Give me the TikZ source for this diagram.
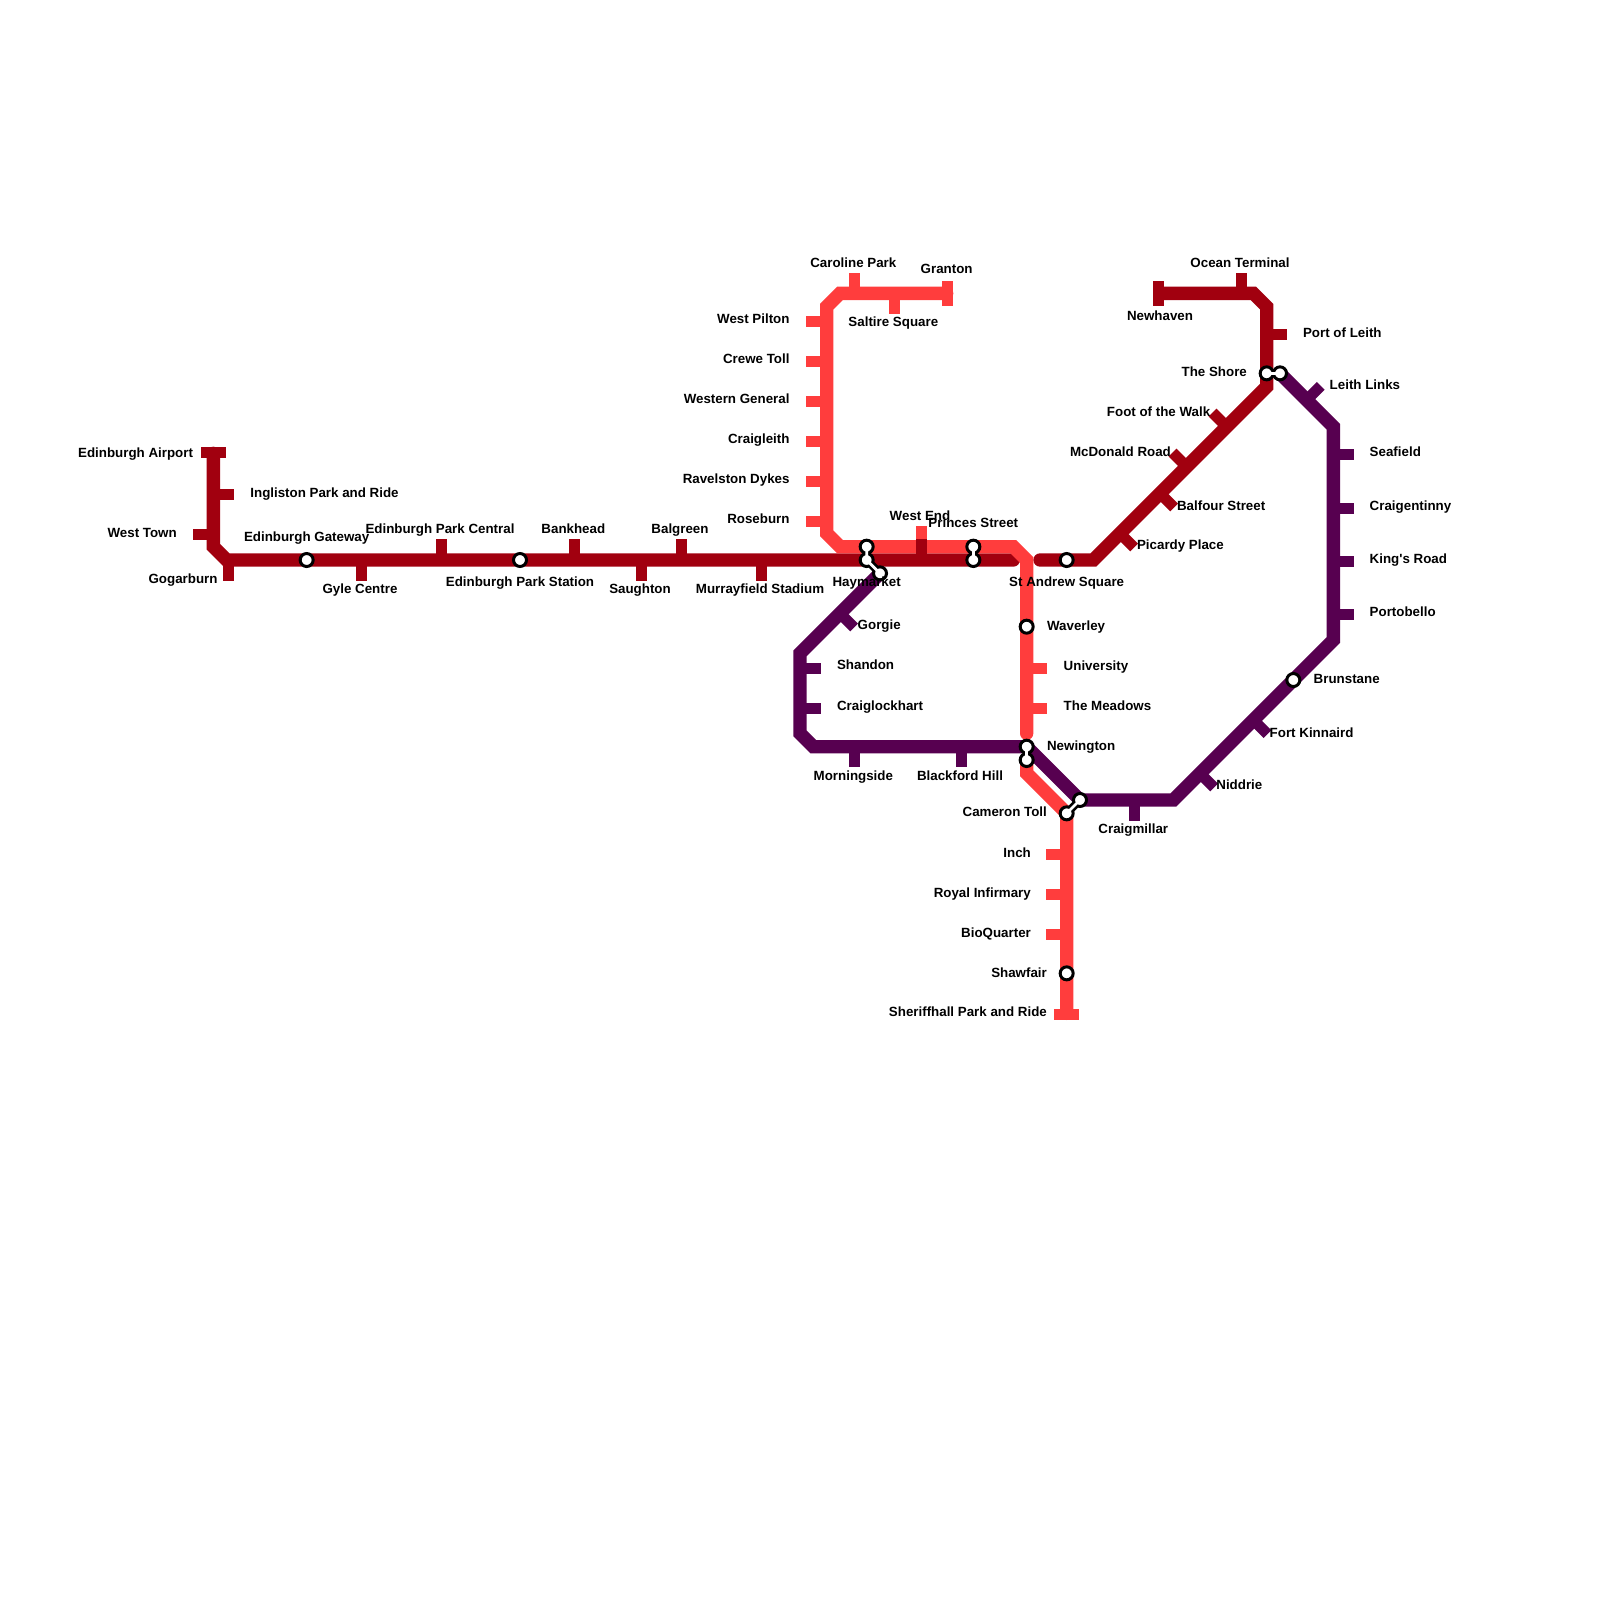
\documentclass[tikz,border=0pt]{standalone}
\usepackage{fontspec}
\setmainfont{Liberation Sans}
\usepackage{xcolor}
\definecolor{cred}{HTML}{A1000F}
\definecolor{ccoral}{HTML}{FF3D3D}
\definecolor{cplum}{HTML}{570050}
\tikzset{
  railr/.style={draw=cred, line width=6.67pt, line cap=round},
  railc/.style={draw=ccoral, line width=6.67pt, line cap=round},
  railp/.style={draw=cplum, line width=6.67pt, line cap=round},
  tickr/.style={draw=cred, line width=5.5pt},
  tickc/.style={draw=ccoral, line width=5.5pt},
  tickp/.style={draw=cplum, line width=5.5pt},
  halt/.style={circle, draw=black, fill=white, line width=1.5pt, minimum size=6.5pt, inner sep=0pt},
  linkb/.style={draw=black, line width=4pt},
  linkw/.style={draw=white, line width=1.35pt},
  lab/.style={font=\fontsize{6.67}{8}\selectfont\bfseries, inner sep=0pt, text height=4.8pt, text depth=1.4pt, yshift=-.8pt},
  labl/.style={lab, anchor=west},
  labr/.style={lab, anchor=east, xshift=.3pt},
}
\begin{document}
\begin{tikzpicture}[x=6.6667pt, y=-6.6667pt]
  \useasboundingbox (0,0) rectangle (120,120);
  % line ends and bends
  \coordinate (r1) at (16,34); \coordinate (r2) at (16,41); \coordinate (r3) at (17,42); \coordinate (r4) at (76,42);
  \coordinate (r5) at (78,42); \coordinate (r6) at (82,42); \coordinate (r7) at (95,29); \coordinate (r8) at (95,23);
  \coordinate (r9) at (94,22); \coordinate (r10) at (87,22);
  \coordinate (c1) at (71,22); \coordinate (c2) at (63,22); \coordinate (c3) at (62,23); \coordinate (c4) at (62,40);
  \coordinate (c5) at (63,41); \coordinate (c6) at (76,41); \coordinate (c7) at (77,42); \coordinate (c8) at (77,55);
  \coordinate (c9) at (77,57); \coordinate (c10) at (77,58); \coordinate (c11) at (80,61); \coordinate (c12) at (80,76);
  \coordinate (p1) at (66,43); \coordinate (p2) at (60,49); \coordinate (p3) at (60,55); \coordinate (p4) at (61,56);
  \coordinate (p5) at (77,56); \coordinate (p6) at (81,60); \coordinate (p7) at (88,60); \coordinate (p8) at (100,48);
  \coordinate (p9) at (100,32); \coordinate (p10) at (96,28);
  % lines
  \draw[tickc] (69.1,41) -- ++(0,-1.55);
  \draw[railr] (r1)--(r2)--(r3)--(r4);
  \draw[railr] (r5)--(r6)--(r7)--(r8)--(r9)--(r10);
  \draw[railc] (c1)--(c2)--(c3)--(c4)--(c5)--(c6)--(c7)--(c8);
  \draw[railc] (c9)--(c10)--(c11)--(c12);
  \draw[railp] (p1)--(p2)--(p3)--(p4)--(p5)--(p6)--(p7)--(p8)--(p9)--(p10);
  % red ticks
  \draw[tickr] (16,33.9) ++(-.92,0) -- ++(1.84,0);
  \draw[tickr] (16,37.1) -- ++(1.55,0);
  \draw[tickr] (16,40.1) -- ++(-1.55,0);
  \draw[tickr] (17.1,42) -- ++(0,1.55);
  \draw[tickr] (27.1,42) -- ++(0,1.55);
  \draw[tickr] (33.1,42) -- ++(0,-1.55);
  \draw[tickr] (43.1,42) -- ++(0,-1.55);
  \draw[tickr] (48.1,42) -- ++(0,1.55);
  \draw[tickr] (51.1,42) -- ++(0,-1.55);
  \draw[tickr] (57.1,42) -- ++(0,1.55);
  \draw[tickr] (69.1,42) -- ++(0,-1.55);
  \draw[tickr] (84,40) -- ++(1.06,1.06);
  \draw[tickr] (87,37) -- ++(1.06,1.06);
  \draw[tickr] (89,35) -- ++(-1.06,-1.06);
  \draw[tickr] (92,32) -- ++(-1.06,-1.06);
  \draw[tickr] (95,25.1) -- ++(1.55,0);
  \draw[tickr] (93.1,22) -- ++(0,-1.55);
  \draw[tickr] (86.92,21.08) -- ++(0,1.84);
  % coral ticks
  \draw[tickc] (71.06,21.08) -- ++(0,1.84);
  \draw[tickc] (64.1,22) -- ++(0,-1.55);
  \draw[tickc] (67.1,22) -- ++(0,1.55);
  \draw[tickc] (62,24.1) -- ++(-1.55,0);
  \draw[tickc] (62,27.1) -- ++(-1.55,0);
  \draw[tickc] (62,30.1) -- ++(-1.55,0);
  \draw[tickc] (62,33.1) -- ++(-1.55,0);
  \draw[tickc] (62,36.1) -- ++(-1.55,0);
  \draw[tickc] (62,39.1) -- ++(-1.55,0);
  \draw[tickc] (77,50.1) -- ++(1.55,0);
  \draw[tickc] (77,53.1) -- ++(1.55,0);
  \draw[tickc] (80,64.05) -- ++(-1.55,0);
  \draw[tickc] (80,67.05) -- ++(-1.55,0);
  \draw[tickc] (80,70.05) -- ++(-1.55,0);
  \draw[tickc] (79.08,76.05) -- ++(1.84,0);
  % plum ticks
  \draw[tickp] (63,46) -- ++(1.06,1.06);
  \draw[tickp] (60,50.1) -- ++(1.55,0);
  \draw[tickp] (60,53.1) -- ++(1.55,0);
  \draw[tickp] (64.1,56) -- ++(0,1.55);
  \draw[tickp] (72.1,56) -- ++(0,1.55);
  \draw[tickp] (85.1,60) -- ++(0,1.55);
  \draw[tickp] (90,58) -- ++(1.06,1.06);
  \draw[tickp] (94,54) -- ++(1.06,1.06);
  \draw[tickp] (100,46.1) -- ++(1.55,0);
  \draw[tickp] (100,42.1) -- ++(1.55,0);
  \draw[tickp] (100,38.1) -- ++(1.55,0);
  \draw[tickp] (100,34.1) -- ++(1.55,0);
  \draw[tickp] (98,30) -- ++(1.06,-1.06);
  % stations
  \node[halt] (gateway) at (23,42) {};
  \node[halt] (parkstn) at (39,42) {};
  \node[halt] (standrew) at (80,42) {};
  \node[halt] (waverley) at (77,47) {};
  \node[halt] (shawfair) at (80,73) {};
  \node[halt] (brunstane) at (97,51) {};
  \coordinate (hay1) at (65,41); \coordinate (hay2) at (65,42); \coordinate (hay3) at (66,43);
  \coordinate (pri1) at (73,41); \coordinate (pri2) at (73,42);
  \coordinate (new1) at (77,56); \coordinate (new2) at (77,57);
  \coordinate (cam1) at (80,61); \coordinate (cam2) at (81,60);
  \coordinate (sho1) at (95,28); \coordinate (sho2) at (96,28);
  \draw[linkb] (hay1)--(hay2)--(hay3);
  \draw[linkb] (pri1)--(pri2);
  \draw[linkb] (new1)--(new2);
  \draw[linkb] (cam1)--(cam2);
  \draw[linkb] (sho1)--(sho2);
  \node[halt] at (hay1) {}; \node[halt] at (hay2) {}; \node[halt] at (hay3) {};
  \node[halt] at (pri1) {}; \node[halt] at (pri2) {};
  \node[halt] at (new1) {}; \node[halt] at (new2) {};
  \node[halt] at (cam1) {}; \node[halt] at (cam2) {};
  \node[halt] at (sho1) {}; \node[halt] at (sho2) {};
  \draw[linkw] (hay1)--(hay2)--(hay3);
  \draw[linkw] (pri1)--(pri2);
  \draw[linkw] (new1)--(new2);
  \draw[linkw] (cam1)--(cam2);
  \draw[linkw] (sho1)--(sho2);
  % labels
  \node[labr] (lairport) at (14.46,33.9) {Edinburgh Airport};
  \node[labl] (lingliston) at (18.75,36.9) {Ingliston Park and Ride};
  \node[labr] (lwesttown) at (13.24,39.95) {West Town};
  \node[lab] (lgateway) at (23,40.2) {Edinburgh Gateway};
  \node[labr] (lgogarburn) at (16.3,43.4) {Gogarburn};
  \node[lab] (lgyle) at (27,44.15) {Gyle Centre};
  \node[lab] (lparkcen) at (33,39.65) {Edinburgh Park Central};
  \node[lab] (lparkstn) at (39,43.6) {Edinburgh Park Station};
  \node[lab] (lbankhead) at (43,39.65) {Bankhead};
  \node[lab] (lsaughton) at (48,44.15) {Saughton};
  \node[lab] (lbalgreen) at (51,39.65) {Balgreen};
  \node[lab] (lmurray) at (57,44.15) {Murrayfield Stadium};
  \node[lab] (lhaymarket) at (65,43.6) {Haymarket};
  \node[lab] (lwestend) at (69,38.65) {West End};
  \node[lab] (lprinces) at (73,39.2) {Princes Street};
  \node[lab] (lstandrew) at (80,43.6) {St Andrew Square};
  \node[labl] (lwaverley) at (78.5,46.9) {Waverley};
  \node[labl] (luniv) at (79.75,49.9) {University};
  \node[labl] (lmeadows) at (79.75,52.9) {The Meadows};
  \node[labl] (lnewington) at (78.5,55.9) {Newington};
  \node[labr] (lcameron) at (78.5,60.85) {Cameron Toll};
  \node[labr] (linch) at (77.3,63.9) {Inch};
  \node[labr] (lroyal) at (77.3,66.9) {Royal Infirmary};
  \node[labr] (lbio) at (77.3,69.9) {BioQuarter};
  \node[labr] (lshawfair) at (78.5,72.9) {Shawfair};
  \node[labr] (lsheriff) at (78.5,75.85) {Sheriffhall Park and Ride};
  \node[labr] (lpilton) at (59.2,23.9) {West Pilton};
  \node[labr] (lcrewe) at (59.2,26.9) {Crewe Toll};
  \node[labr] (lwestern) at (59.2,29.85) {Western General};
  \node[labr] (lcraigleith) at (59.2,32.85) {Craigleith};
  \node[labr] (lravelston) at (59.2,35.9) {Ravelston Dykes};
  \node[labr] (lroseburn) at (59.2,38.9) {Roseburn};
  \node[lab] (lcaroline) at (64,19.65) {Caroline Park};
  \node[lab] (lsaltire) at (67,24.1) {Saltire Square};
  \node[lab] (lgranton) at (71,20.15) {Granton};
  \node[lab] (lnewhaven) at (87,23.65) {Newhaven};
  \node[lab] (locean) at (93,19.65) {Ocean Terminal};
  \node[labl] (lleith) at (97.7,24.9) {Port of Leith};
  \node[labr] (lshore) at (93.5,27.85) {The Shore};
  \node[labl] (llinks) at (99.7,28.85) {Leith Links};
  \node[labr] (lfoot) at (90.75,30.85) {Foot of the Walk};
  \node[labr] (lmcdonald) at (87.8,33.85) {McDonald Road};
  \node[labl] (lbalfour) at (88.25,37.9) {Balfour Street};
  \node[labl] (lpicardy) at (85.25,40.85) {Picardy Place};
  \node[labl] (lseafield) at (102.7,33.85) {Seafield};
  \node[labl] (lcraigen) at (102.7,37.9) {Craigentinny};
  \node[labl] (lkings) at (102.7,41.85) {King\textquotesingle s Road};
  \node[labl] (lporto) at (102.7,45.85) {Portobello};
  \node[labl] (lbrunstane) at (98.5,50.9) {Brunstane};
  \node[labl] (lfort) at (95.2,54.9) {Fort Kinnaird};
  \node[labl] (lniddrie) at (91.2,58.85) {Niddrie};
  \node[lab] (lcraigmillar) at (85,62.15) {Craigmillar};
  \node[labl] (lgorgie) at (64.3,46.85) {Gorgie};
  \node[labl] (lshandon) at (62.75,49.85) {Shandon};
  \node[labl] (lcraiglock) at (62.75,52.9) {Craiglockhart};
  \node[lab] (lmorning) at (64,58.15) {Morningside};
  \node[lab] (lblackford) at (72,58.15) {Blackford Hill};
\end{tikzpicture}
\end{document}
